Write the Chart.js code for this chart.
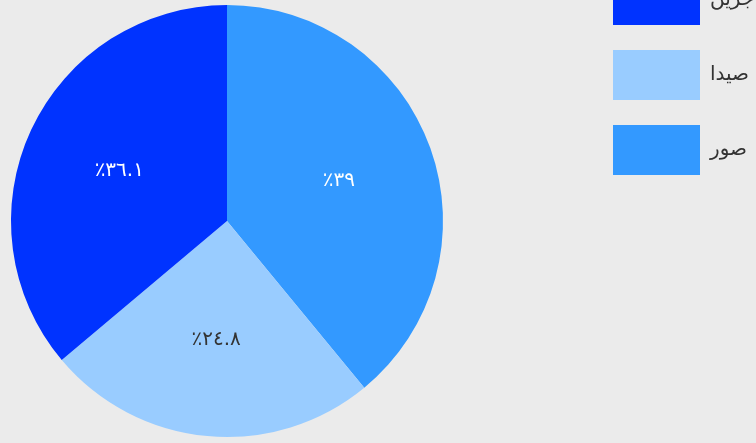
<!DOCTYPE html>
<html>
<head>
<meta charset="utf-8">
<script src="https://cdn.jsdelivr.net/npm/chart.js@4/dist/chart.umd.min.js"></script>
<style>
  html, body { margin: 0; padding: 0; width: 756px; height: 443px; overflow: hidden; background: #ebebeb; }
  #wrap { position: absolute; left: -134px; top: -50px; width: 1000px; height: 542px; }
</style>
</head>
<body>
<div id="wrap"><canvas id="c" width="1000" height="542"></canvas></div>
<script>
const categories = ['صور', 'صيدا', 'جزين'];
const shares = [39, 24.8, 36.1];
const sliceColors = ['#3399ff', '#99ccff', '#0033ff'];
const labelColors = ['#ffffff', '#333333', '#ffffff'];

const legendFontSize = 20;
const legendFont = '"DejaVu Sans", sans-serif';
const boxW = 87, boxH = 50, legendPad = 25;

function toArabicDigits(v) {
  const d = '٠١٢٣٤٥٦٧٨٩';
  return String(v).replace(/[0-9]/g, c => d[+c]);
}

// measure legend text so the legend's left edge lands where the reference has it
const mctx = document.createElement('canvas').getContext('2d');
mctx.font = legendFontSize + 'px ' + legendFont;
const maxTextW = Math.max(...categories.map(t => mctx.measureText(t).width));
const legendW = legendPad + boxW + legendFontSize / 2 + maxTextW + 10;
const canvasW = 1000;
const chartAreaRight = 722;
const rightPad = canvasW - chartAreaRight - legendW;

const sliceLabels = {
  id: 'sliceLabels',
  afterDatasetsDraw(chart) {
    const ctx = chart.ctx;
    const meta = chart.getDatasetMeta(0);
    ctx.save();
    ctx.font = '20px "DejaVu Sans", sans-serif';
    ctx.textAlign = 'center';
    ctx.textBaseline = 'middle';
    meta.data.forEach((arc, i) => {
      const p = arc.getProps(['x', 'y', 'startAngle', 'endAngle', 'outerRadius'], true);
      const mid = (p.startAngle + p.endAngle) / 2;
      const r = p.outerRadius * 0.55;
      ctx.fillStyle = labelColors[i];
      ctx.fillText('٪' + toArabicDigits(shares[i]), p.x + Math.cos(mid) * r, p.y + Math.sin(mid) * r);
    });
    ctx.restore();
  }
};

new Chart(document.getElementById('c'), {
  type: 'pie',
  data: {
    labels: categories,
    datasets: [{
      data: shares,
      backgroundColor: sliceColors,
      borderWidth: 0,
      radius: 216
    }]
  },
  options: {
    responsive: false,
    animation: false,
    devicePixelRatio: 1,
    layout: { padding: { left: 0, top: 0, bottom: 0, right: rightPad } },
    plugins: {
      tooltip: { enabled: false },
      legend: {
        position: 'right',
        align: 'start',
        reverse: true,
        labels: {
          boxWidth: boxW,
          boxHeight: boxH,
          padding: legendPad,
          color: '#333333',
          font: { family: legendFont, size: legendFontSize }
        }
      }
    }
  },
  plugins: [sliceLabels]
});
</script>
</body>
</html>
